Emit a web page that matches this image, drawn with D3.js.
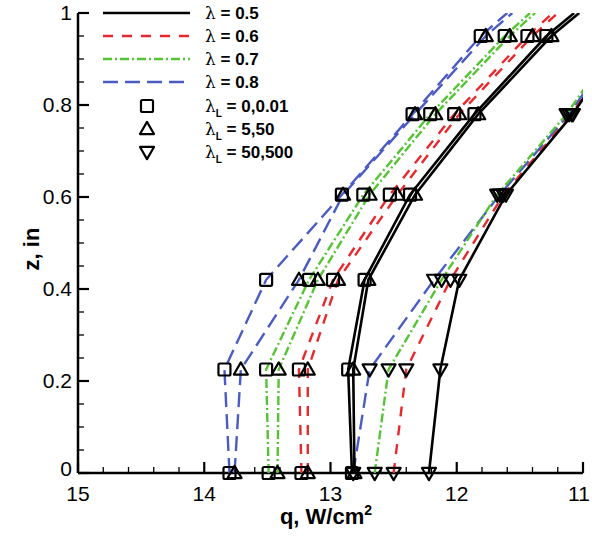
<!DOCTYPE html>
<html><head><meta charset="utf-8">
<script src="https://cdn.jsdelivr.net/npm/d3@7"></script>
<style>body{margin:0;background:#fff}svg{display:block}</style>
</head><body><svg id="c" width="592" height="537"></svg>
<script>
// ---- data ----
const zLevels = [0, 0.225, 0.42, 0.605, 0.78, 0.95, 1.0];
const markerRows = 6; // markers drawn at the first 6 z levels
const lambdaValues = ["0.5", "0.6", "0.7", "0.8"];
const lambdaLValues = ["0,0.01", "5,50", "50,500"];
const xTicks = [15, 14, 13, 12, 11];
const yTicks = [0, 0.2, 0.4, 0.6, 0.8, 1];

// q (W/cm^2) at each z level; series per lambda and lambda_L
const q05_sq   = [12.83, 12.86, 12.73, 12.37, 11.86, 11.29, 11.07];
const q05_tri  = [12.81, 12.82, 12.70, 12.33, 11.83, 11.25, 11.03];
const q05_dn   = [12.22, 12.13, 11.98, 11.61, 11.08, 10.67, 10.52];
const q06_sq   = [13.23, 13.25, 12.98, 12.53, 12.02, 11.44, 11.24];
const q06_tri  = [13.18, 13.18, 12.94, 12.47, 11.98, 11.40, 11.20];
const q06_dn   = [12.50, 12.40, 12.05, 11.63, 11.09, 10.66, 10.52];
const q07_sq   = [13.49, 13.51, 13.17, 12.74, 12.21, 11.62, 11.42];
const q07_tri  = [13.42, 13.41, 13.10, 12.69, 12.17, 11.58, 11.38];
const q07_dn   = [12.65, 12.54, 12.12, 11.68, 11.13, 10.70, 10.55];
const q08_sq   = [13.80, 13.84, 13.51, 12.91, 12.35, 11.81, 11.60];
const q08_tri  = [13.76, 13.71, 13.25, 12.90, 12.33, 11.77, 11.56];
const q08_dn   = [12.82, 12.69, 12.18, 11.66, 11.11, 10.68, 10.53];

// ---- styles ----
const styles = {
  "0.5": {color: "#000000", dash: null, width: 2.6},
  "0.6": {color: "#e8282c", dash: "10,9", width: 2.4},
  "0.7": {color: "#55c434", dash: "9,3,2,3", width: 2.4},
  "0.8": {color: "#4a5cc4", dash: "15,7", width: 2.4}
};
const markerTypes = ["square", "up", "down"];

const series = [
  {lam: "0.8", m: "square", q: q08_sq}, {lam: "0.8", m: "up", q: q08_tri}, {lam: "0.8", m: "down", q: q08_dn},
  {lam: "0.7", m: "square", q: q07_sq}, {lam: "0.7", m: "up", q: q07_tri}, {lam: "0.7", m: "down", q: q07_dn},
  {lam: "0.6", m: "square", q: q06_sq}, {lam: "0.6", m: "up", q: q06_tri}, {lam: "0.6", m: "down", q: q06_dn},
  {lam: "0.5", m: "square", q: q05_sq}, {lam: "0.5", m: "up", q: q05_tri}, {lam: "0.5", m: "down", q: q05_dn}
];

const svg = d3.select("#c");
const L = 78, R = 583, T = 13, B = 473;
const x = d3.scaleLinear().domain([15, 11]).range([L, R]);
const y = d3.scaleLinear().domain([0, 1]).range([B, T]);

svg.append("defs").append("clipPath").attr("id", "clip")
  .append("rect").attr("x", L).attr("y", T).attr("width", R - L).attr("height", B - T);

const tickFont = "'Liberation Sans', Arial, sans-serif";

// axes lines
svg.append("line").attr("x1", L).attr("x2", L).attr("y1", T).attr("y2", B)
  .attr("stroke", "#000").attr("stroke-width", 2.5);
svg.append("line").attr("x1", L).attr("x2", R).attr("y1", B).attr("y2", B)
  .attr("stroke", "#000").attr("stroke-width", 2.5);

// x ticks (inward)
const xMinor = d3.range(0, 21).map(i => 15 - i * 0.2);
svg.append("g").selectAll("line").data(xMinor).join("line")
  .attr("x1", d => x(d)).attr("x2", d => x(d))
  .attr("y1", B).attr("y2", (d, i) => i % 5 === 0 ? B - 11 : B - 6)
  .attr("stroke", "#000").attr("stroke-width", (d, i) => i % 5 === 0 ? 2.2 : 1.3);
svg.append("g").selectAll("text").data(xTicks).join("text")
  .attr("x", d => Math.min(x(d), 579)).attr("y", B + 28)
  .attr("text-anchor", "middle").attr("font-family", tickFont).attr("font-size", 21)
  .text(d => d);

// y ticks (inward)
const yMinor = d3.range(0, 21).map(i => i * 0.05);
svg.append("g").selectAll("line").data(yMinor).join("line")
  .attr("x1", L).attr("x2", (d, i) => i % 4 === 0 ? L + 11 : L + 6)
  .attr("y1", d => y(d)).attr("y2", d => y(d))
  .attr("stroke", "#000").attr("stroke-width", (d, i) => i % 4 === 0 ? 2.2 : 1.3);
svg.append("g").selectAll("text").data(yTicks).join("text")
  .attr("x", L - 6).attr("y", d => y(d) + 7 - (d === 0 ? 4 : 0))
  .attr("text-anchor", "end").attr("font-family", tickFont).attr("font-size", 21)
  .text(d => d);

// axis titles
svg.append("text").attr("transform", `translate(39,${(T + B) / 2 + 6}) rotate(-90)`)
  .attr("text-anchor", "middle").attr("font-family", tickFont).attr("font-weight", "bold")
  .attr("font-size", 22).text("z, in");
const xt = svg.append("text").attr("x", 326).attr("y", 524)
  .attr("text-anchor", "middle").attr("font-family", tickFont).attr("font-weight", "bold")
  .attr("font-size", 22);
xt.append("tspan").text("q, W/cm");
xt.append("tspan").attr("font-size", 14).attr("dy", -9).text("2");

// lines
const line = d3.line().x(d => x(d[0])).y(d => y(d[1]));
const plot = svg.append("g").attr("clip-path", "url(#clip)");
series.forEach(s => {
  const st = styles[s.lam];
  const pts = s.q.map((q, i) => [q, zLevels[i]]);
  plot.append("path").attr("d", line(pts)).attr("fill", "none")
    .attr("stroke", st.color).attr("stroke-width", st.width)
    .attr("stroke-dasharray", st.dash);
});

// markers
function drawMarker(g, type, cx, cy) {
  if (type === "square") {
    g.append("rect").attr("x", cx - 6).attr("y", cy - 6).attr("width", 12).attr("height", 12)
      .attr("rx", 1.5).attr("fill", "none").attr("stroke", "#000").attr("stroke-width", 2.2);
  } else if (type === "up") {
    const s = d3.symbol().type(d3.symbolTriangle).size(85);
    g.append("path").attr("d", s()).attr("transform", `translate(${cx},${cy + 1})`)
      .attr("fill", "none").attr("stroke", "#000").attr("stroke-width", 2.2).attr("stroke-linejoin", "round");
  } else {
    const s = d3.symbol().type(d3.symbolTriangle).size(85);
    g.append("path").attr("d", s()).attr("transform", `translate(${cx},${cy - 1}) rotate(180)`)
      .attr("fill", "none").attr("stroke", "#000").attr("stroke-width", 2.2).attr("stroke-linejoin", "round");
  }
}
const mg = svg.append("g");
series.forEach(s => {
  s.q.slice(0, markerRows).forEach((q, i) => {
    if (q >= 11 && q <= 15) drawMarker(mg, s.m, x(q), y(zLevels[i]));
  });
});

// legend
const lg = svg.append("g");
const rowY = [13, 36, 59, 82, 106, 129, 152];
const legFont = "'Liberation Sans', Arial, sans-serif";
const lamFont = "'DejaVu Serif', 'Liberation Serif', serif";
lambdaValues.forEach((lv, i) => {
  const st = styles[lv];
  lg.append("line").attr("x1", 103).attr("x2", 190).attr("y1", rowY[i]).attr("y2", rowY[i])
    .attr("stroke", st.color).attr("stroke-width", st.width).attr("stroke-dasharray", st.dash);
  const t = lg.append("text").attr("x", 205).attr("y", rowY[i] + 6)
    .attr("font-family", legFont).attr("font-weight", "bold").attr("font-size", 17);
  t.append("tspan").attr("font-family", lamFont).attr("font-weight", "normal").text("λ");
  t.append("tspan").text(" = " + lv);
});
lambdaLValues.forEach((lv, i) => {
  const ry = rowY[4 + i];
  drawMarker(lg, markerTypes[i], 147, ry);
  const t = lg.append("text").attr("x", 205).attr("y", ry + 6)
    .attr("font-family", legFont).attr("font-weight", "bold").attr("font-size", 17);
  t.append("tspan").attr("font-family", lamFont).attr("font-weight", "normal").text("λ");
  t.append("tspan").attr("font-size", 10).attr("dy", 5).text("L");
  t.append("tspan").attr("dy", -5).text(" = " + lv);
});
</script>
</body></html>
